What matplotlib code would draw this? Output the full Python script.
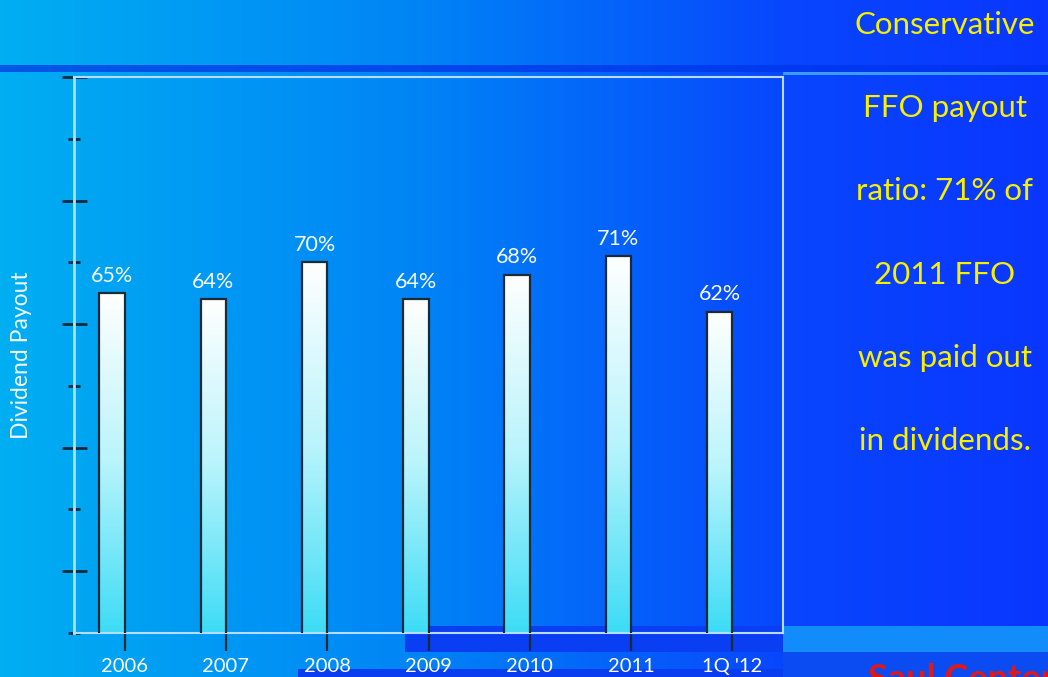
import numpy as np
import matplotlib.pyplot as plt
from matplotlib.colors import LinearSegmentedColormap
from matplotlib.patches import Rectangle

plt.rcParams.update({'font.family': ['Lato', 'DejaVu Sans'], 'figure.dpi': 100})

# data
years = ['2006', '2007', '2008', '2009', '2010', '2011', "1Q '12"]
payout = [65, 64, 70, 64, 68, 71, 62]
payout_labels = ['65%', '64%', '70%', '64%', '68%', '71%', '62%']
side_text = ['Conservative', 'FFO payout', 'ratio: 71% of', '2011 FFO',
             'was paid out', 'in dividends.']

W, H = 1048, 677
fig = plt.figure(figsize=(W / 100, H / 100))

# slide background: horizontal gradient cyan -> deep blue
bg = fig.add_axes([0, 0, 1, 1], zorder=-10)
bg_cmap = LinearSegmentedColormap.from_list(
    'slide', [(0, '#00aef2'), (0.4, '#0084f6'), (0.75, '#0846fd'), (1, '#0a36ff')])
bg.imshow(np.linspace(0, 1, 256)[None, :], aspect='auto', cmap=bg_cmap,
          extent=(0, W, H, 0))
bg.set_xlim(0, W)
bg.set_ylim(H, 0)
bg.axis('off')

# slide decorations (pixel coords, y down)
stripe_cmap = LinearSegmentedColormap.from_list('stripe', ['#0058e6', '#0030f2'])
bg.imshow(np.linspace(0, 1, 256)[None, :], aspect='auto', cmap=stripe_cmap,
          extent=(0, W, 72, 65))
bg.add_patch(Rectangle((783, 72), W - 783, 2.5, color='#3d9cff', lw=0))
bg.add_patch(Rectangle((405, 626), 378, 26, color='#0a3ef2', lw=0))
bg.add_patch(Rectangle((783, 626), 265, 26, color='#128cfa', lw=0))
bg.add_patch(Rectangle((783, 652), 265, 25, color='#0a4cf2', lw=0))
bg.add_patch(Rectangle((298, 669), 485, 8, color='#0a3cf0', lw=0))
# company name, cut off by the bottom edge as on the slide
bg.text(868, 690, 'Saul Centers', color='#e01818', fontsize=26,
        fontweight='bold', ha='left', va='baseline', clip_on=False)
bg.set_xlim(0, W)
bg.set_ylim(H, 0)

# right-hand message
for i, line in enumerate(side_text):
    fig.text(945 / W, 1 - (25 + i * 83.2) / H, line, color='#f8f000',
             fontsize=22.5, ha='center', va='center')

# y label sits in the slide margin
fig.text(22 / W, 1 - 355 / H, 'Dividend Payout', color='#eef8ff', fontsize=16.5,
         rotation=90, ha='center', va='center')

# chart
ax = fig.add_axes([74 / W, 1 - 633 / H, (783 - 74) / W, (633 - 77) / H])
ax.patch.set_alpha(0)
x = np.arange(len(years))
bar_w = 0.25
bar_cmap = LinearSegmentedColormap.from_list('bar', ['#3ddcf6', '#b8f4fc', '#ffffff'])
grad = np.linspace(0, 1, 128)[:, None]
ymin = 10
for xi, v in zip(x, payout):
    ax.imshow(grad, cmap=bar_cmap, origin='lower', aspect='auto',
              extent=(xi - bar_w, xi, ymin, v), zorder=2)
ax.bar(x - bar_w, payout, width=bar_w, align='edge', facecolor='none',
       edgecolor='#1c2a36', linewidth=1.6, zorder=3)
for xi, v, lab in zip(x, payout, payout_labels):
    ax.text(xi - bar_w / 2, v + 1.2, lab, color='#f4faff', fontsize=15.5,
            ha='center', va='bottom', zorder=4)

ax.set_xlim(-0.5, len(years) - 0.5)
ax.set_ylim(ymin, 100)
ax.set_xticks(x)
ax.set_xticklabels(years, color='white', fontsize=14.5)
ax.set_yticks([20, 40, 60, 80, 100])
ax.set_yticks([10, 30, 50, 70, 90], minor=True)
ax.set_yticklabels([])
ax.tick_params(axis='x', direction='out', length=13, width=1.6,
               color='#1c2a36', pad=5)
ax.tick_params(axis='y', which='major', direction='inout', length=18,
               width=2, color='#14283c')
ax.tick_params(axis='y', which='minor', direction='inout', length=8,
               width=2, color='#14283c')
for side in ['top', 'right', 'bottom']:
    ax.spines[side].set_color('#b8dcff')
    ax.spines[side].set_linewidth(1.5)
ax.spines['left'].set_color('#a8e4ff')
ax.spines['left'].set_linewidth(2)

fig.savefig('out.png', dpi=100)
